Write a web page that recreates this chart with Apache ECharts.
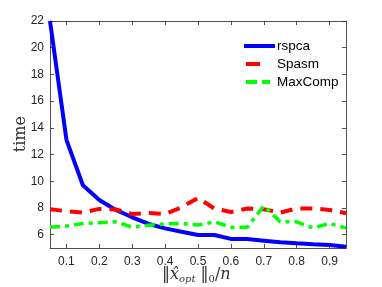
<!DOCTYPE html>
<html><head><meta charset="utf-8">
<script src="https://cdn.jsdelivr.net/npm/echarts@6/dist/echarts.min.js"></script>
<style>html,body{margin:0;padding:0;background:#fff}#c{width:382px;height:287px}</style>
</head><body><div id="c"></div>
<script>
const xValues = [0.05,0.1,0.15,0.2,0.25,0.3,0.35,0.4,0.45,0.5,0.55,0.6,0.65,0.7,0.75,0.8,0.85,0.9,0.95];
const rspca = [22,13.1,9.7,8.6,7.85,7.3,6.8,6.47,6.22,5.97,5.97,5.68,5.67,5.55,5.43,5.35,5.28,5.22,5.1];
const spasm = [7.9,7.76,7.66,7.93,7.88,7.55,7.63,7.55,8.05,8.75,7.95,7.7,7.95,7.9,7.65,7.96,7.96,7.85,7.6];
const maxcomp = [6.55,6.64,6.84,6.9,6.96,6.56,6.7,6.8,6.84,6.72,6.96,6.56,6.56,8.16,6.96,6.96,6.5,6.84,6.5];
const xTicks = [0.1,0.2,0.3,0.4,0.5,0.6,0.7,0.8,0.9];
const yTicks = [6,8,10,12,14,16,18,20,22];
const seriesNames = ['rspca','Spasm','MaxComp'];

const axisColor = '#262626';
const toPairs = ys => xValues.map((x,i)=>[x,ys[i]]);
const chart = echarts.init(document.getElementById('c'));
const baseX = {
  type:'value', min:0.05, max:0.95,
  axisLine:{show:true,lineStyle:{color:axisColor,width:0.8}},
  axisTick:{show:true,inside:true,length:4,customValues:xTicks,lineStyle:{color:axisColor,width:0.8}},
  splitLine:{show:false}
};
const baseY = {
  type:'value', min:5, max:22,
  axisLine:{show:true,lineStyle:{color:axisColor,width:0.8}},
  axisTick:{show:true,inside:true,length:4,customValues:yTicks,lineStyle:{color:axisColor,width:0.8}},
  splitLine:{show:false}
};
const serif = 'DejaVu Serif';
chart.setOption({
  animation:false,
  backgroundColor:'#fff',
  grid:{left:50,right:36,top:21,bottom:39,containLabel:false},
  xAxis:[
    Object.assign({},baseX,{position:'bottom',
      axisLabel:{show:true,customValues:xTicks,color:axisColor,fontSize:12,fontFamily:'Liberation Sans, Arial',margin:8,formatter:v=>String(Math.round(v*10)/10)}}),
    Object.assign({},baseX,{position:'top',axisLabel:{show:false}})
  ],
  yAxis:[
    Object.assign({},baseY,{position:'left',
      axisLabel:{show:true,customValues:yTicks,color:axisColor,fontSize:12,fontFamily:'Liberation Sans, Arial',margin:6}}),
    Object.assign({},baseY,{position:'right',axisLabel:{show:false}})
  ],
  legend:{
    orient:'vertical', left:239, top:34, itemWidth:31, itemHeight:4, itemGap:4,
    textStyle:{fontSize:13.5,fontFamily:'Liberation Sans, Arial',color:'#000',padding:[0,0,0,-3]},
    data:[
      {name:seriesNames[0],icon:'path://M0,0H31V4H0Z'},
      {name:seriesNames[1],icon:'path://M2,0H16V4H2Z M0,0H0.05V0.05H0Z M30.95,3.95H31V4H30.95Z'},
      {name:seriesNames[2],icon:'path://M2,0H13V4H2Z M18,0H26V4H18Z M0,0H0.05V0.05H0Z M30.95,3.95H31V4H30.95Z'}
    ]
  },
  graphic:[
    {type:'text',left:162,top:267,style:{
      rich:{n:{fontFamily:serif,fontSize:16,fill:'#333'},i:{fontFamily:serif,fontStyle:'italic',fontSize:16,fill:'#333'},s:{fontFamily:serif,fontStyle:'italic',fontSize:10,fill:'#333',padding:[9,0,0,0]},s0:{fontFamily:serif,fontSize:10,fill:'#333',padding:[9,0,0,0]}},
      text:'{n|‖}{i|x̂}{s|opt}{n| ‖}{s0|0}{n|/}{i|n}'
    }},
    {type:'text',left:13,top:116,style:{text:'time',font:'16px "DejaVu Serif"',fill:'#333'},rotation:Math.PI/2}
  ],
  series:[
    {name:seriesNames[0],type:'line',data:toPairs(rspca),symbol:'none',color:'#0000ff',lineStyle:{width:4,color:'#0000ff'}},
    {name:seriesNames[1],type:'line',data:toPairs(spasm),symbol:'none',color:'#ff0000',lineStyle:{width:4,color:'#ff0000',type:[12,8]}},
    {name:seriesNames[2],type:'line',data:toPairs(maxcomp),symbol:'none',color:'#00ff00',lineStyle:{width:3.5,color:'#00ff00',type:[10,5,4,5]}}
  ]
});
</script></body></html>
